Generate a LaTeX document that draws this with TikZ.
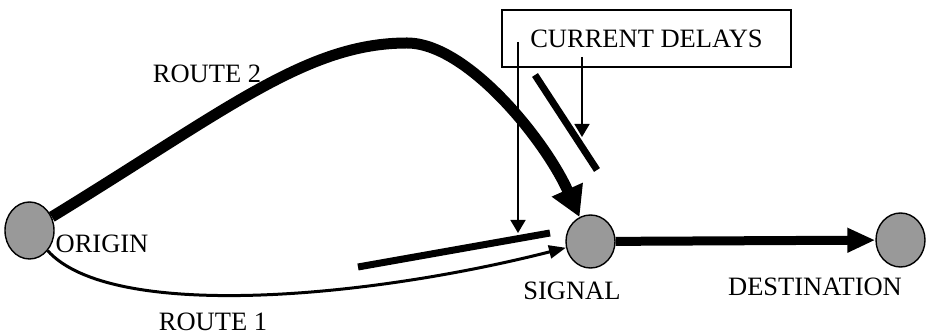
\documentclass[tikz,border=0pt]{standalone}
\usepackage{fontspec}
\setmainfont{Liberation Serif}
\usetikzlibrary{arrows.meta,shapes.geometric}

\begin{document}
\begin{tikzpicture}[
  x=0.5pt, y=-0.5pt,
  font=\fontsize{13.25}{15}\selectfont,
  place/.style={draw, line width=0.7pt, ellipse, fill=black!40,
    inner sep=0pt, minimum width=24.5pt, minimum height=27pt},
  delaybox/.style={draw, line width=0.7pt, inner sep=0pt,
    minimum width=144.5pt, minimum height=28.5pt},
  lbl/.style={inner sep=0pt},
  fatarr/.style={line width=5.5pt, -{Triangle[length=15pt, width=16pt]}},
  midarr/.style={line width=4.5pt, -{Triangle[length=14pt, width=11.5pt]}},
  thinarr/.style={line width=1.5pt, -{Triangle[length=8.5pt, width=6.5pt]}},
  ptr/.style={line width=0.8pt, -{Triangle[length=6.5pt, width=7.5pt]}},
  bar/.style={line width=3.5pt}
]
  \useasboundingbox (0,0) rectangle (927,335);

  \node[place, minimum height=28.5pt] (org) at (29.5,230.5) {};
  \node[place, minimum height=26.5pt] (sig) at (590.5,241.5) {};
  \node[place] (dst) at (900.5,240) {};

  \node[lbl] at (102,244) {ORIGIN};
  \node[lbl] at (572,291) {SIGNAL};
  \node[lbl] at (815,287) {DESTINATION};
  \node[lbl] at (213,322) {ROUTE 1};
  \node[lbl] at (207,74) {ROUTE 2};

  % routes
  \coordinate (crest) at (407,43);
  \draw[fatarr] (org) .. controls (228,109) and (307,43) .. (crest)
    .. controls (467,43) and (545,140) .. (sig);
  \draw[thinarr] (org) .. controls (110,320) and (360,300) .. (sig);
  \draw[midarr] (sig) -- (dst);

  % delays on both routes
  \draw[bar] (358,267) -- (550,233);
  \draw[bar] (535,75) -- (597,170);

  \node[delaybox] (dly) at (646.5,38.5) {CURRENT DELAYS};
  \coordinate (p1) at (518,42);
  \coordinate (q1) at (518,233);
  \coordinate (p2) at (582,57);
  \coordinate (q2) at (582,137);
  \draw[ptr] (p1) -- (q1);
  \draw[ptr] (p2) -- (q2);
\end{tikzpicture}
\end{document}
